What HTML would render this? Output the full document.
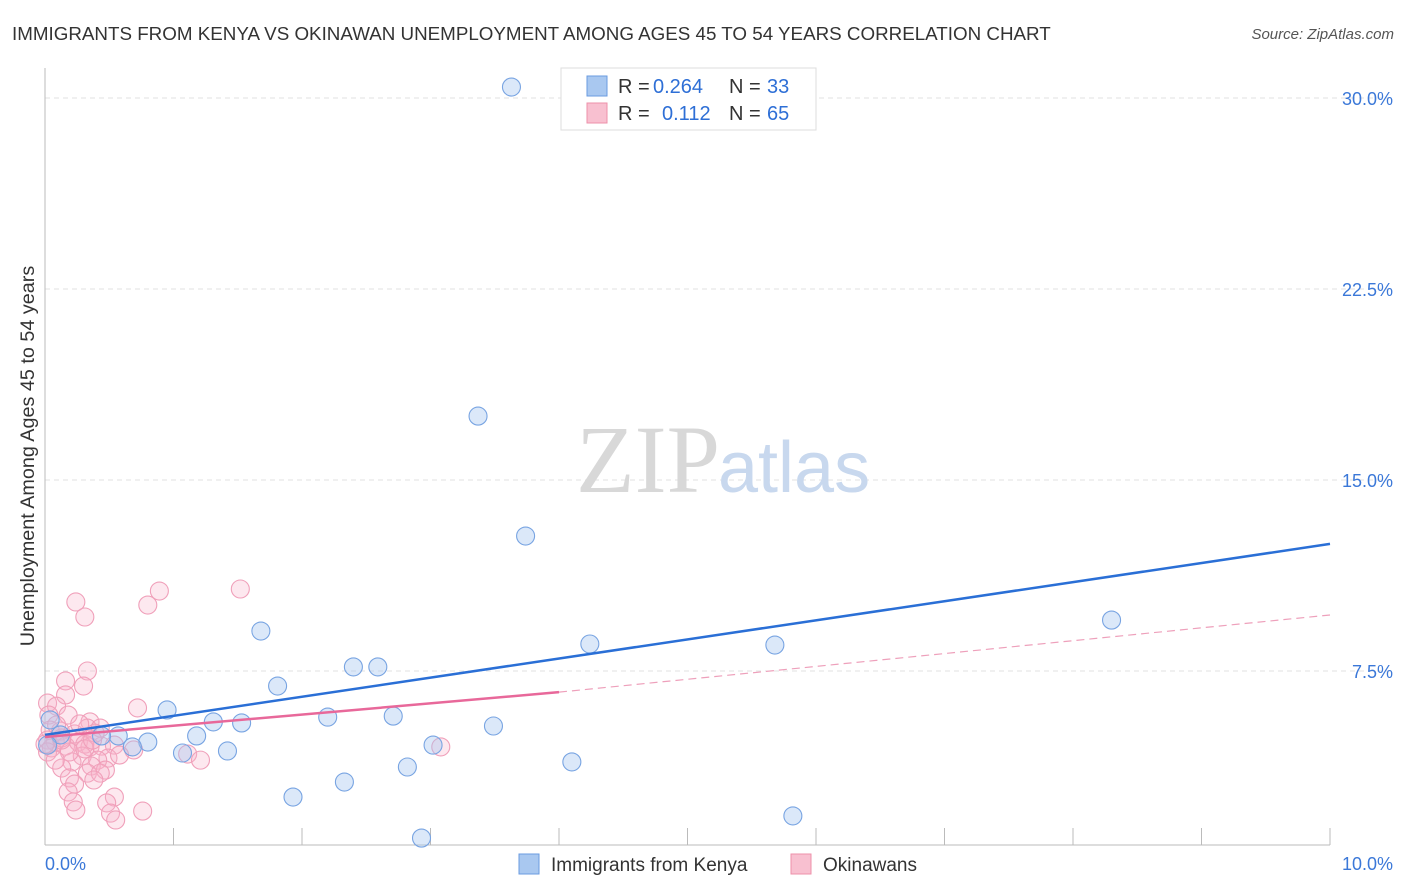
<!DOCTYPE html>
<html><head><meta charset="utf-8"><style>
body{margin:0;background:#fff;font-family:"Liberation Sans",sans-serif}
svg{display:block}
</style></head><body>
<svg id="c" width="1406" height="892" xmlns="http://www.w3.org/2000/svg">
<text x="12" y="40" font-size="18.8" fill="#333">IMMIGRANTS FROM KENYA VS OKINAWAN UNEMPLOYMENT AMONG AGES 45 TO 54 YEARS CORRELATION CHART</text>
<text x="1394" y="39" font-size="15" fill="#555" font-style="italic" text-anchor="end">Source: ZipAtlas.com</text>
<text x="34" y="456" font-size="19.8" fill="#333" text-anchor="middle" transform="rotate(-90 34 456)">Unemployment Among Ages 45 to 54 years</text>
<g id="grid"></g>
<text x="720" y="492" font-size="96" fill="#d8d8d8" text-anchor="end" font-family="Liberation Serif,serif">ZIP</text>
<text x="718" y="492" font-size="72" fill="#c8d8ee">atlas</text>
<g id="pts"></g>
<g id="lines"></g>
<g>
<rect x="561" y="68" width="255" height="62" fill="#fff" stroke="#ddd"/>
<rect x="587" y="76" width="20" height="20" fill="#a9c8f0" stroke="#6a9be0"/>
<rect x="587" y="103" width="20" height="20" fill="#f8c0d0" stroke="#ee90aa"/>
<text x="618" y="93" font-size="20" fill="#333">R =</text>
<text x="653" y="93" font-size="20" fill="#2e6fd6">0.264</text>
<text x="729" y="93" font-size="20" fill="#333">N =</text>
<text x="767" y="93" font-size="20" fill="#2e6fd6">33</text>
<text x="618" y="120" font-size="20" fill="#333">R =</text>
<text x="662" y="120" font-size="20" fill="#2e6fd6">0.112</text>
<text x="729" y="120" font-size="20" fill="#333">N =</text>
<text x="767" y="120" font-size="20" fill="#2e6fd6">65</text>
</g>
<g>
<rect x="519" y="854" width="20" height="20" fill="#a9c8f0" stroke="#6a9be0"/>
<text x="551" y="871" font-size="19" fill="#333">Immigrants from Kenya</text>
<rect x="791" y="854" width="20" height="20" fill="#f8c0d0" stroke="#ee90aa"/>
<text x="823" y="871" font-size="19" fill="#333">Okinawans</text>
</g>
</svg>
<script>
const yTicks=[7.5,15,22.5,30];
const yTickLabels=["7.5%","15.0%","22.5%","30.0%"];
const xTickLabels=["0.0%","10.0%"];
const kenyaX=[3.63,3.37,3.74,1.68,8.30,4.24,5.68,2.40,2.59,1.81,0.95,2.20,2.71,1.31,1.53,3.49,0.04,0.57,0.80,1.18,0.68,1.07,1.42,3.02,2.82,4.10,2.33,1.93,5.82,2.93,0.12,0.44,0.02];
const kenyaY=[30.43,17.51,12.80,9.07,9.50,8.56,8.52,7.66,7.66,6.91,5.97,5.69,5.73,5.50,5.46,5.34,5.58,4.95,4.71,4.95,4.52,4.28,4.36,4.59,3.73,3.93,3.14,2.55,1.81,0.94,4.99,4.95,4.59];
const okiX=[.24,.31,.89,.80,1.52,.33,.16,.30,.16,.02,.09,.72,.03,.18,.35,.33,.43,.04,.12,.23,.02,.08,.16,.26,.35,.44,.54,.05,.13,.31,.69,.02,.49,.58,1.11,1.21,.29,.41,.21,.36,.47,.13,.33,.43,.19,.23,.38,.18,.22,.54,.48,.24,.51,.76,.55,3.08,.09,.27,.39,0,.19,.08,.13,.31,.37];
const okiY=[10.21,9.62,10.64,10.09,10.72,7.50,7.11,6.91,6.56,6.24,6.12,6.05,5.77,5.77,5.50,5.26,5.26,5.18,5.14,5.03,4.79,4.71,4.55,4.71,4.52,4.55,4.59,4.48,4.87,4.63,4.40,4.32,4.08,4.20,4.24,4.00,4.16,4.00,3.93,3.77,3.61,3.69,3.49,3.49,3.30,3.06,3.22,2.75,2.36,2.55,2.32,2.04,1.92,2.00,1.65,4.52,5.38,5.42,5.06,4.63,4.32,4.00,4.79,4.44,4.79];
const kenyaTrend=[4.99,12.49];
const okiTrend=[4.91,6.67,9.70];
const X=v=>45+v*128.5, Y=v=>862-v*25.467;
const NS="http://www.w3.org/2000/svg";
function mk(t,a,p){const e=document.createElementNS(NS,t);for(const k in a)e.setAttribute(k,a[k]);p.appendChild(e);return e;}
const g=document.getElementById('grid');
yTicks.forEach((t,i)=>{
 const l=mk('line',{x1:45,x2:1393,y1:Y(t),y2:Y(t),stroke:'#e2e2e2','stroke-dasharray':'5,4'},g);
 
 
 const tx=mk('text',{x:1393,y:Y(t)+7,'font-size':18,fill:'#3b78d8','text-anchor':'end'},g);
 tx.textContent=yTickLabels[i];
 
 
});
mk('line',{x1:45,x2:45,y1:68,y2:845,stroke:'#bbb'},g);
mk('line',{x1:45,x2:1330,y1:845,y2:845,stroke:'#bbb'},g);
for(let k=0;k<=10;k++){mk('line',{x1:X(k),x2:X(k),y1:828,y2:845,stroke:'#bbb'},g);}
[[0,'start',45],[10,'end',1393]].forEach((d,i)=>{
 const tx=mk('text',{x:d[2],y:870,'font-size':18,fill:'#3b78d8','text-anchor':d[1]},g);
 tx.textContent=xTickLabels[i];
 
 
});
const p=document.getElementById('pts');
okiX.forEach((x,i)=>{const c=mk('circle',{cx:X(x),cy:Y(okiY[i]),r:9,fill:'rgba(248,180,202,0.3)',stroke:'#f0a0ba','stroke-width':1.1},p);
 
 });
kenyaX.forEach((x,i)=>{const c=mk('circle',{cx:X(x),cy:Y(kenyaY[i]),r:9,fill:'rgba(165,198,240,0.4)',stroke:'#78a4e2','stroke-width':1.1},p);
 
 });
const L=document.getElementById('lines');
const a=mk('line',{x1:X(0),y1:Y(kenyaTrend[0]),x2:X(10),y2:Y(kenyaTrend[1]),stroke:'#2a6fd6','stroke-width':2.5},L);


const b=mk('line',{x1:X(0),y1:Y(okiTrend[0]),x2:X(4),y2:Y(okiTrend[1]),stroke:'#e8689a','stroke-width':2.5},L);


const d=mk('line',{x1:X(4),y1:Y(okiTrend[1]),x2:X(10),y2:Y(okiTrend[2]),stroke:'#eea0bb','stroke-width':1.2,'stroke-dasharray':'8,5'},L);


</script>
</body></html>
